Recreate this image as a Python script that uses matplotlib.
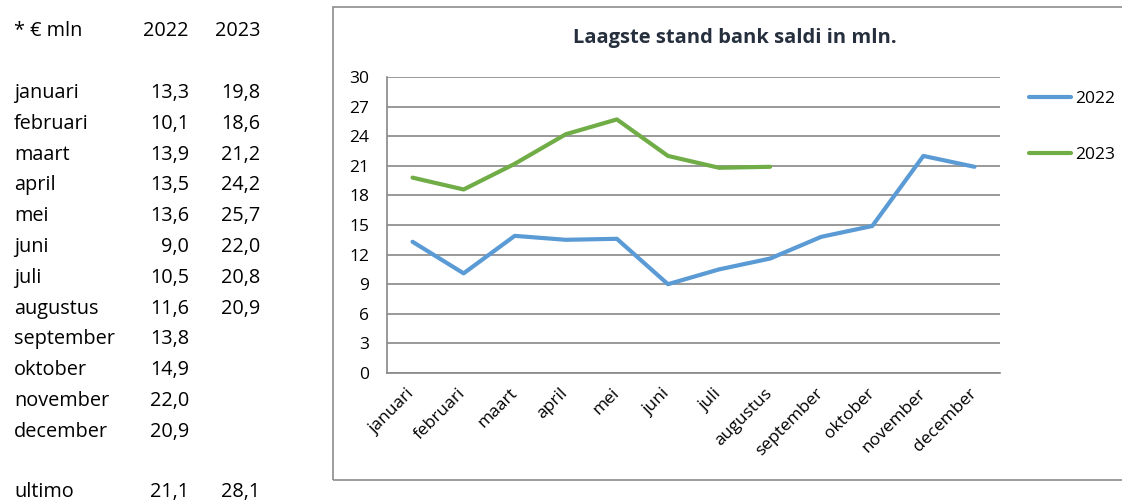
import matplotlib
matplotlib.use("Agg")
import matplotlib.pyplot as plt
from matplotlib.patches import Rectangle

plt.rcParams['font.family'] = ['Open Sans', 'DejaVu Sans']

W, H = 1122, 501

months = ["januari", "februari", "maart", "april", "mei", "juni", "juli",
          "augustus", "september", "oktober", "november", "december"]
vals_2022 = [13.3, 10.1, 13.9, 13.5, 13.6, 9.0, 10.5, 11.6, 13.8, 14.9, 22.0, 20.9]
vals_2023 = [19.8, 18.6, 21.2, 24.2, 25.7, 22.0, 20.8, 20.9]
ultimo = {"2022": 21.1, "2023": 28.1}
yticks = list(range(0, 31, 3))

blue = "#5B9BD5"
green = "#70AD47"
grid_col = "#888888"

fig = plt.figure(figsize=(W / 100, H / 100), dpi=100)


def fx(px):
    return px / W


def fy(py):
    return 1 - py / H


def nl(v):
    return f"{v:.1f}".replace(".", ",")


# left table
fs = 14.3
fig.text(fx(14), fy(31), "* € mln", fontsize=fs, va="center")
fig.text(fx(189), fy(31), "2022", fontsize=fs, va="center", ha="right")
fig.text(fx(260), fy(31), "2023", fontsize=fs, va="center", ha="right")
row_y0, row_dy = 93, 30.8
for i, m in enumerate(months):
    y = row_y0 + i * row_dy
    fig.text(fx(14), fy(y), m, fontsize=fs, va="center")
    fig.text(fx(189), fy(y), nl(vals_2022[i]), fontsize=fs, va="center", ha="right")
    if i < len(vals_2023):
        fig.text(fx(260), fy(y), nl(vals_2023[i]), fontsize=fs, va="center", ha="right")
fig.text(fx(14), fy(492), "ultimo", fontsize=fs, va="center")
fig.text(fx(189), fy(492), nl(ultimo["2022"]), fontsize=fs, va="center", ha="right")
fig.text(fx(260), fy(492), nl(ultimo["2023"]), fontsize=fs, va="center", ha="right")

# chart frame
frame = Rectangle((fx(333), fy(480)), 1.2, fy(7) - fy(480), transform=fig.transFigure,
                  fill=False, edgecolor="#8c8c8c", linewidth=1.2, clip_on=False)
fig.patches.append(frame)

fig.text(fx(735), fy(38), "Laagste stand bank saldi in mln.", fontsize=14.5,
         fontweight="bold", color="#262F3D", ha="center", va="center")

# plot area
ax = fig.add_axes([fx(387), fy(373), fx(1000) - fx(387), fy(77) - fy(373)])
x = list(range(len(months)))
ax.plot(x, vals_2022, color=blue, linewidth=3.0, label="2022", solid_capstyle="round")
ax.plot(x[:len(vals_2023)], vals_2023, color=green, linewidth=3.0, label="2023",
        solid_capstyle="round")
ax.set_xlim(-0.5, len(months) - 0.5)
ax.set_ylim(0, 30)
ax.set_yticks(yticks)
ax.set_xticks(x)
ax.set_xticklabels(months, rotation=45, ha="right", va="center", rotation_mode="anchor")
ax.tick_params(axis="both", length=0, labelsize=12.5)
ax.tick_params(axis="y", pad=13)
ax.tick_params(axis="x", pad=13)
ax.grid(axis="y", color=grid_col, linewidth=1.2)
ax.set_axisbelow(True)
for s in ["top", "right"]:
    ax.spines[s].set_visible(False)
for s in ["left", "bottom"]:
    ax.spines[s].set_color(grid_col)
    ax.spines[s].set_linewidth(1.2)

leg = ax.legend(loc="upper left", bbox_to_anchor=(fx(1029), fy(91)),
                bbox_transform=fig.transFigure, frameon=False, fontsize=12.5,
                borderpad=0, borderaxespad=0, handlelength=2.4,
                handletextpad=0.25, labelspacing=2.3)

fig.savefig("out.png", dpi=100)
